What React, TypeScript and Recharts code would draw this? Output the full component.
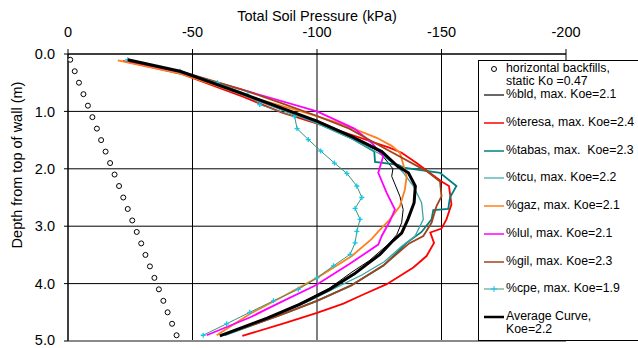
import React from 'react';
import {
  ScatterChart,
  Scatter,
  XAxis,
  YAxis,
  CartesianGrid,
  ReferenceLine,
  Customized,
} from 'recharts';

// ---------- DATA (pressure kPa, depth m) ----------
const pressureTicks = [0, -50, -100, -150, -200];
const depthTicks = [0, 1, 2, 3, 4, 5];

const staticDepth = [0.1, 0.3, 0.5, 0.7, 0.9, 1.1, 1.3, 1.5, 1.7, 1.9, 2.1, 2.3, 2.5, 2.7, 2.9, 3.1, 3.3, 3.5, 3.7, 3.9, 4.1, 4.3, 4.5, 4.7, 4.9];
const staticPressure = [-0.9, -2.7, -4.4, -6.2, -8.0, -9.8, -11.6, -13.3, -15.1, -16.9, -18.7, -20.5, -22.2, -24.0, -25.8, -27.6, -29.4, -31.1, -32.9, -34.7, -36.5, -38.3, -40.0, -41.8, -43.6];

const bld = [[-24, 0.11], [-45, 0.3], [-72, 0.72], [-100, 1.18], [-114, 1.45], [-125, 1.7], [-130.5, 2.0], [-130, 2.13], [-133.3, 2.48], [-134.6, 2.71], [-134, 2.94], [-132, 3.15], [-129, 3.3], [-121, 3.6], [-114, 3.8], [-105, 4.08], [-94, 4.33], [-80, 4.6], [-61, 4.91]];
const teresa = [[-22, 0.12], [-45, 0.34], [-70, 0.74], [-86, 1.02], [-110, 1.35], [-129, 1.63], [-134, 1.72], [-140, 1.9], [-150, 2.22], [-153, 2.3], [-154, 2.62], [-152, 2.88], [-150, 3.04], [-145.5, 3.11], [-147, 3.29], [-144, 3.52], [-138.7, 3.72], [-128, 4.01], [-118.6, 4.19], [-110.6, 4.35], [-100, 4.51], [-87, 4.69], [-70, 4.91]];
const tabas = [[-25, 0.12], [-45, 0.32], [-72, 0.74], [-100, 1.2], [-114, 1.47], [-123, 1.7], [-123.3, 1.88], [-132.7, 1.93], [-134.7, 1.98], [-149.4, 2.07], [-156, 2.3], [-153.4, 2.5], [-152.7, 2.7], [-146.7, 2.72], [-146, 2.88], [-142, 3.1], [-136, 3.29], [-126.6, 3.69], [-113.3, 4.04], [-100, 4.3], [-86.5, 4.53], [-73, 4.74], [-63, 4.9]];
const tcu = [[-25, 0.12], [-45, 0.32], [-72, 0.74], [-100, 1.21], [-114, 1.48], [-126, 1.76], [-132, 1.95], [-134.7, 2.07], [-138.7, 2.3], [-142, 2.59], [-142.7, 2.88], [-139.4, 3.17], [-134, 3.35], [-127, 3.62], [-118, 3.85], [-108, 4.06], [-97, 4.3], [-85, 4.53], [-72, 4.75], [-62, 4.9]];
const gaz = [[-20, 0.11], [-45, 0.34], [-72, 0.73], [-96, 1.03], [-110, 1.22], [-124, 1.46], [-130, 1.6], [-133.3, 1.72], [-136, 2.13], [-135.3, 2.36], [-133.3, 2.65], [-129.3, 2.88], [-125.3, 3.06], [-122, 3.22], [-114, 3.52], [-100, 3.9], [-86.5, 4.22], [-73, 4.53], [-59.7, 4.9]];
const lul = [[-24, 0.12], [-45, 0.31], [-77, 0.71], [-100, 1.0], [-115, 1.3], [-122, 1.55], [-126.6, 1.78], [-124.6, 2.07], [-128, 2.42], [-131.3, 2.71], [-129.3, 2.91], [-126, 3.17], [-124.6, 3.32], [-113, 3.66], [-99.5, 4.03], [-86.5, 4.3], [-73, 4.59], [-55.7, 4.9]];
const gil = [[-24, 0.12], [-45, 0.3], [-70, 0.62], [-86, 0.86], [-100, 1.08], [-113, 1.3], [-122, 1.52], [-133, 1.78], [-144, 2.04], [-149.4, 2.22], [-150, 2.48], [-148, 2.65], [-146, 2.94], [-142.7, 3.17], [-137, 3.3], [-127, 3.67], [-114, 4.03], [-100, 4.3], [-87, 4.52], [-73.5, 4.73], [-62, 4.9]];
const cpe = [[-24, 0.1], [-45, 0.3], [-60, 0.5], [-72, 0.7], [-77, 0.88], [-91, 1.09], [-92, 1.3], [-96.5, 1.49], [-101.5, 1.69], [-107, 1.9], [-112, 2.08], [-116, 2.3], [-118, 2.5], [-115.3, 2.69], [-117.3, 2.88], [-116, 3.09], [-115.3, 3.29], [-113.3, 3.49], [-106.6, 3.69], [-100, 3.9], [-92.5, 4.1], [-82.5, 4.3], [-73, 4.5], [-63.7, 4.7], [-54.3, 4.9]];
const average = [[-24, 0.1], [-45, 0.3], [-72, 0.72], [-100, 1.17], [-114, 1.44], [-126, 1.7], [-132.5, 1.96], [-136.7, 2.07], [-139.5, 2.3], [-139, 2.59], [-136.5, 2.88], [-134, 3.12], [-130.6, 3.25], [-125.3, 3.49], [-115, 3.83], [-105, 4.1], [-93, 4.36], [-80, 4.6], [-61, 4.91]];

const toPts = (arr: number[][]) => arr.map(([p, d]) => ({ p, d }));
const staticPts = staticDepth.map((d, i) => ({ p: staticPressure[i], d }));

type Series = { name: string; data: { p: number; d: number }[]; color: string; width: number; kind: 'line' | 'plus' | 'circle' };

const series: Series[] = [
  { name: 'horizontal backfills,\nstatic Ko =0.47', data: staticPts, color: '#000000', width: 1, kind: 'circle' },
  { name: '%bld, max. Koe=2.1', data: toPts(bld), color: '#000000', width: 1, kind: 'line' },
  { name: '%teresa, max. Koe=2.4', data: toPts(teresa), color: '#FF0000', width: 1.8, kind: 'line' },
  { name: '%tabas, max.  Koe=2.3', data: toPts(tabas), color: '#008080', width: 1.8, kind: 'line' },
  { name: '%tcu, max. Koe=2.2', data: toPts(tcu), color: '#3AA6A6', width: 1.3, kind: 'line' },
  { name: '%gaz, max. Koe=2.1', data: toPts(gaz), color: '#FF7F1E', width: 1.8, kind: 'line' },
  { name: '%lul, max. Koe=2.1', data: toPts(lul), color: '#FF00FF', width: 1.8, kind: 'line' },
  { name: '%gil, max. Koe=2.3', data: toPts(gil), color: '#A3421A', width: 1.8, kind: 'line' },
  { name: '%cpe, max. Koe=1.9', data: toPts(cpe), color: '#33997A', width: 1, kind: 'plus' },
  { name: 'Average Curve,\nKoe=2.2', data: toPts(average), color: '#000000', width: 3, kind: 'line' },
];

const MARKER_CYAN = '#12C6F2';
const FONT = '"Liberation Sans", Arial, Helvetica, sans-serif';

const Blank = () => <g />;
const Plus = (props: any) => {
  const { cx, cy } = props;
  if (cx == null || cy == null) return <g />;
  return <path d={`M${cx - 2.5},${cy}H${cx + 2.5}M${cx},${cy - 2.5}V${cy + 2.5}`} stroke={MARKER_CYAN} strokeWidth={1.3} fill="none" />;
};
const Ring = (props: any) => {
  const { cx, cy } = props;
  if (cx == null || cy == null) return <g />;
  return <circle cx={cx} cy={cy} r={2.5} fill="#fff" stroke="#000" strokeWidth={1} />;
};

const Titles = () => (
  <g fontFamily={FONT} fill="#000">
    <text x={317} y={21} textAnchor="middle" fontSize={14.5}>Total Soil Pressure (kPa)</text>
    <text transform="translate(22,165) rotate(-90)" textAnchor="middle" fontSize={14.5}>Depth from top of wall (m)</text>
  </g>
);

const legendTop = (i: number) => (i === 0 ? 62 : 88 + (i - 1) * 27.75);

export default function App() {
  return (
    <div style={{ position: 'absolute', left: 0, top: 0, width: 638, height: 348, overflow: 'hidden', background: '#fff', fontFamily: FONT }}>
      <ScatterChart width={638} height={348} margin={{ top: 24, right: 72, bottom: 7, left: 8 }}>
        <CartesianGrid stroke="#000" strokeWidth={1} />
        <XAxis
          type="number"
          dataKey="p"
          orientation="top"
          domain={[-200, 0]}
          reversed
          ticks={pressureTicks}
          height={30}
          allowDataOverflow
          axisLine={{ stroke: '#000' }}
          tickLine={{ stroke: '#000' }}
          tickSize={5}
          tickMargin={12}
          tick={{ fill: '#000', fontSize: 14.5, fontFamily: FONT }}
        />
        <YAxis
          type="number"
          dataKey="d"
          domain={[0, 5]}
          reversed
          ticks={depthTicks}
          width={60}
          allowDataOverflow
          axisLine={{ stroke: '#000' }}
          tickLine={{ stroke: '#000' }}
          tickSize={4}
          tickMargin={9}
          tickFormatter={(v: number) => v.toFixed(1)}
          tick={{ fill: '#000', fontSize: 14.5, fontFamily: FONT }}
        />
        <ReferenceLine y={5} stroke="#8a8a8a" strokeWidth={2} />
        {series.map((s) =>
          s.kind === 'circle' ? (
            <Scatter key={s.name} name={s.name} data={s.data} shape={Ring} isAnimationActive={false} />
          ) : (
            <Scatter
              key={s.name}
              name={s.name}
              data={s.data}
              fill={s.color}
              line={{ stroke: s.color, strokeWidth: s.width }}
              lineType="joint"
              shape={s.kind === 'plus' ? Plus : Blank}
              isAnimationActive={false}
            />
          )
        )}
        <Customized component={Titles} />
      </ScatterChart>
      <div
        style={{
          position: 'absolute',
          left: 478,
          top: 60,
          width: 180,
          height: 281,
          border: '1px solid #000',
          background: '#fff',
          boxSizing: 'border-box',
        }}
      >
        {series.map((s, i) => (
          <div key={s.name} style={{ position: 'absolute', left: 0, top: legendTop(i) - 61, width: 178, height: 28 }}>
            <svg width={22} height={14} style={{ position: 'absolute', left: 4, top: 0 }}>
              {s.kind === 'circle' ? (
                <circle cx={11} cy={7} r={2.5} fill="#fff" stroke="#000" strokeWidth={1} />
              ) : (
                <>
                  <line x1={1} x2={21} y1={7} y2={7} stroke={s.kind === 'plus' ? '#33997A' : s.color} strokeWidth={s.kind === 'plus' ? 1 : s.width === 3 ? 2.5 : s.width > 1.5 ? 1.5 : 1.2} />
                  {s.kind === 'plus' && <path d="M11,4V10M8,7H14" stroke={MARKER_CYAN} strokeWidth={1} />}
                </>
              )}
            </svg>
            <div style={{ position: 'absolute', left: 27, top: 0, fontSize: 12.3, lineHeight: '13px', whiteSpace: 'pre', color: '#000' }}>
              {s.name}
            </div>
          </div>
        ))}
      </div>
    </div>
  );
}
